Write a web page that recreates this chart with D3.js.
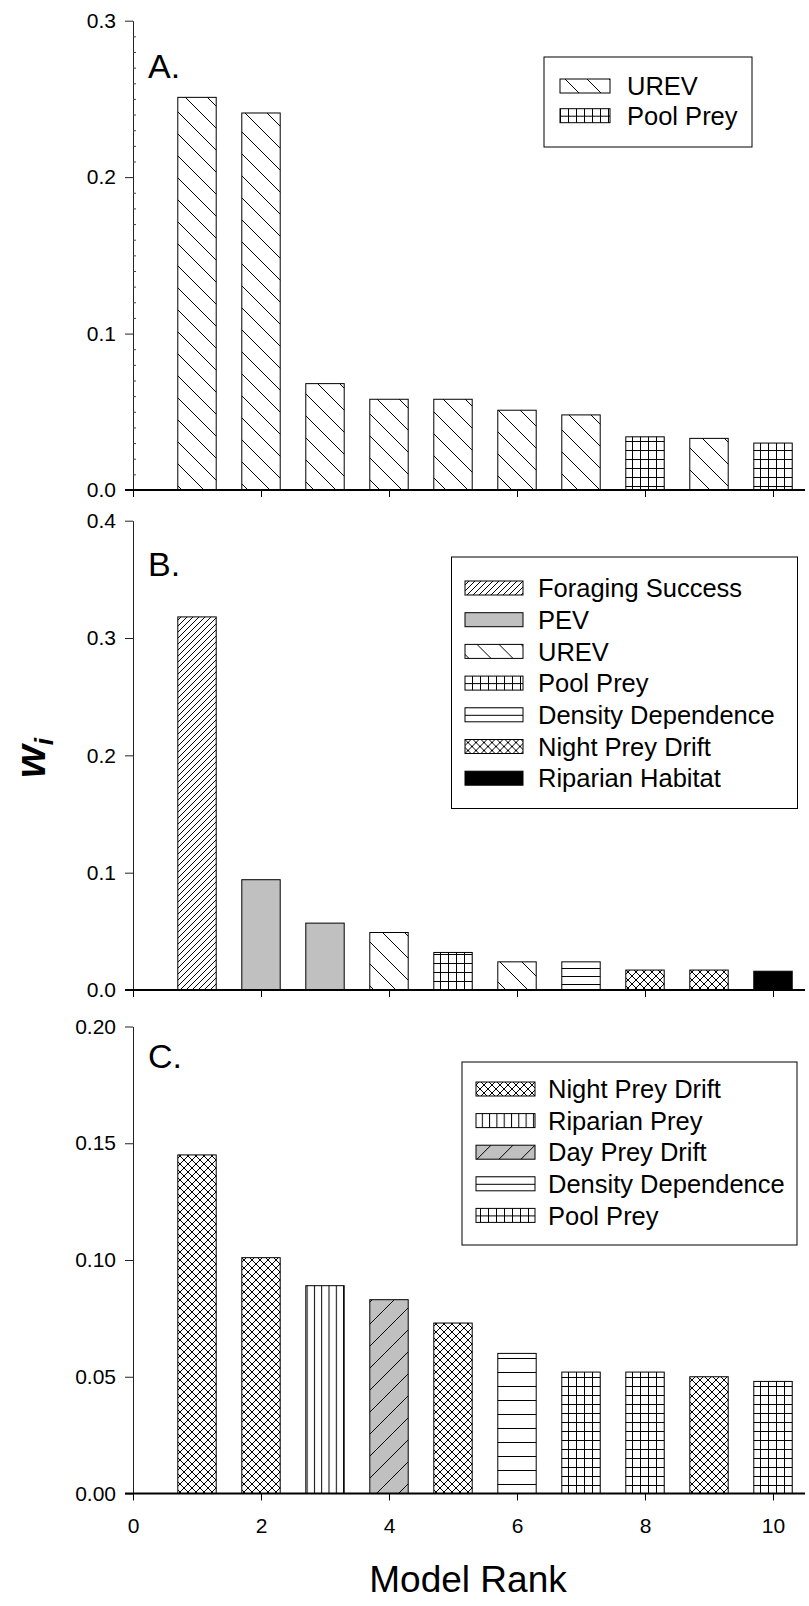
<!DOCTYPE html>
<html>
<head>
<meta charset="utf-8">
<script src="https://cdn.jsdelivr.net/npm/d3@7"></script>
<style>
  html, body { margin: 0; padding: 0; background: #fff; }
  svg { display: block; }
  text { font-family: "Liberation Sans", Arial, sans-serif; fill: #000; }
</style>
</head>
<body>
<svg id="chart" width="809" height="1606"></svg>
<script>
// model ranks on the x axis
var ranks = [1, 2, 3, 4, 5, 6, 7, 8, 9, 10];

// panel A
var catsA = ['UREV', 'UREV', 'UREV', 'UREV', 'UREV', 'UREV', 'UREV', 'Pool Prey', 'UREV', 'Pool Prey'];
var valsA = [0.251, 0.241, 0.068, 0.058, 0.058, 0.051, 0.048, 0.034, 0.033, 0.030];

// panel B
var catsB = ['Foraging Success', 'PEV', 'PEV', 'UREV', 'Pool Prey', 'UREV', 'Density Dependence',
    'Night Prey Drift', 'Night Prey Drift', 'Riparian Habitat'];
var valsB = [0.318, 0.094, 0.057, 0.049, 0.032, 0.024, 0.024, 0.017, 0.017, 0.016];

// panel C
var catsC = ['Night Prey Drift', 'Night Prey Drift', 'Riparian Prey', 'Day Prey Drift', 'Night Prey Drift',
    'Density Dependence', 'Pool Prey', 'Pool Prey', 'Night Prey Drift', 'Pool Prey'];
var valsC = [0.145, 0.101, 0.089, 0.083, 0.073, 0.060, 0.052, 0.052, 0.050, 0.048];

var legendA = ['UREV', 'Pool Prey'];
var legendB = ['Foraging Success', 'PEV', 'UREV', 'Pool Prey', 'Density Dependence', 'Night Prey Drift', 'Riparian Habitat'];
var legendC = ['Night Prey Drift', 'Riparian Prey', 'Day Prey Drift', 'Density Dependence', 'Pool Prey'];

var yTicksA = [0, 0.1, 0.2, 0.3];
var yTicksB = [0, 0.1, 0.2, 0.3, 0.4];
var yTicksC = [0, 0.05, 0.10, 0.15, 0.20];
var xTicks = [0, 2, 4, 6, 8, 10];
var xTitle = 'Model Rank';

var svg = d3.select('#chart');
var defs = svg.append('defs');
var x = d3.scaleLinear().domain([0, 10.5]).range([133, 805]);
var barW = x(0.6) - x(0);

var GRAY = '#c0c0c0';

// hatch patterns, in page pixels
var makePattern = function makePattern(id, w, h, bg, d) {
    var p = defs.append('pattern').attr('id', id)
        .attr('patternUnits', 'userSpaceOnUse').attr('width', w).attr('height', h);
    p.append('rect').attr('width', w).attr('height', h).attr('fill', bg);
    p.append('path').attr('d', d).attr('stroke', '#000').attr('stroke-width', 1).attr('fill', 'none');
};

makePattern('p-forage', 6, 6, '#fff', 'M-1,7 L7,-1 M-1,1 L1,-1 M5,7 L7,5');
makePattern('p-urev', 22, 22, '#fff', 'M-1,-1 L23,23 M-1,21 L1,23 M21,-1 L23,1');
makePattern('p-day', 22, 22, GRAY, 'M-1,23 L23,-1 M-1,1 L1,-1 M21,23 L23,21');
makePattern('p-pool', 8, 9, '#fff', 'M0.5,0 V9 M0,0.5 H8');
makePattern('p-dens', 8, 8, '#fff', 'M0,0.5 H8');
makePattern('p-densC', 8, 14, '#fff', 'M0,0.5 H8');
makePattern('p-night', 8, 8, '#fff', 'M-1,-1 L9,9 M9,-1 L-1,9');
makePattern('p-ripprey', 7.3, 10, '#fff', 'M0.5,0 V10');

var fillFor = function fillFor(cat, key) {
    switch (cat) {
        case 'Foraging Success': return 'url(#p-forage)';
        case 'PEV': return GRAY;
        case 'UREV': return 'url(#p-urev)';
        case 'Pool Prey': return 'url(#p-pool)';
        case 'Density Dependence': return key === 'C' ? 'url(#p-densC)' : 'url(#p-dens)';
        case 'Night Prey Drift': return 'url(#p-night)';
        case 'Riparian Prey': return 'url(#p-ripprey)';
        case 'Day Prey Drift': return 'url(#p-day)';
        case 'Riparian Habitat': return '#000';
    }
    return '#fff';
};

var panels = [
    {key: 'A', cats: catsA, vals: valsA, ticks: yTicksA, fmt: '.1f', top: 20.7, base: 490, labelY: 78,
        minor: 0.01, legend: legendA, box: [544, 57, 208, 90], rowY: 86, rowStep: 29.7, swX: 560, swW: 50, txtX: 627},
    {key: 'B', cats: catsB, vals: valsB, ticks: yTicksB, fmt: '.1f', top: 520.7, base: 990, labelY: 576,
        minor: 0, legend: legendB, box: [451.5, 557, 346, 251.5], rowY: 588, rowStep: 31.7, swX: 465, swW: 58, txtX: 538},
    {key: 'C', cats: catsC, vals: valsC, ticks: yTicksC, fmt: '.2f', top: 1026.5, base: 1493.5, labelY: 1068,
        minor: 0, legend: legendC, box: [462, 1062, 335, 183], rowY: 1089, rowStep: 31.6, swX: 476, swW: 59, txtX: 548}
];

panels.forEach(function drawPanel(p) {
    var yMax = p.ticks[p.ticks.length - 1];
    var y = d3.scaleLinear().domain([0, yMax]).range([p.base, p.top]);
    var g = svg.append('g').attr('class', 'panel-' + p.key);

    // bars
    g.selectAll('rect.bar').data(ranks).enter().append('rect')
        .attr('class', 'bar')
        .attr('x', function (r) { return x(r) - barW / 2; })
        .attr('y', function (r, i) { return y(p.vals[i]); })
        .attr('width', barW)
        .attr('height', function (r, i) { return y(0) - y(p.vals[i]); })
        .attr('fill', function (r, i) { return fillFor(p.cats[i], p.key); })
        .attr('stroke', '#000').attr('stroke-width', 1);

    // y axis
    var yAxis = d3.axisLeft(y).tickValues(p.ticks).tickFormat(d3.format(p.fmt))
        .tickSize(8).tickSizeOuter(0).tickPadding(9);
    var ya = g.append('g').attr('transform', 'translate(' + x(0) + ',0)').call(yAxis);
    ya.select('.domain').attr('stroke', '#222');
    ya.selectAll('.tick line').attr('stroke', '#222');
    ya.selectAll('text').attr('font-size', 21).attr('font-family', '"Liberation Sans", Arial, sans-serif');

    if (p.minor) {
        var minorVals = d3.range(0, yMax + 1e-9, p.minor).filter(function (v) {
            return p.ticks.every(function (t) { return Math.abs(t - v) > 1e-9; });
        });
        g.append('g').attr('transform', 'translate(' + x(0) + ',0)')
            .call(d3.axisRight(y).tickValues(minorVals).tickSize(3).tickFormat(''))
            .call(function (s) { s.select('.domain').remove(); s.selectAll('line').attr('stroke', '#444'); });
    }

    // x axis
    var xAxis = d3.axisBottom(x).tickValues(xTicks).tickSize(7).tickSizeOuter(0).tickPadding(18);
    if (p.key !== 'C') xAxis.tickFormat('');
    var xa = g.append('g').attr('transform', 'translate(0,' + y(0) + ')').call(xAxis);
    xa.select('.domain').remove();
    xa.selectAll('.tick line').attr('stroke', '#000');
    xa.selectAll('text').attr('font-size', 21).attr('font-family', '"Liberation Sans", Arial, sans-serif');
    g.append('line').attr('x1', x(0) - 8).attr('x2', x(10.5)).attr('y1', y(0)).attr('y2', y(0))
        .attr('stroke', '#000').attr('stroke-width', 2);

    // panel letter
    g.append('text').attr('x', 148).attr('y', p.labelY).attr('font-size', 34).text(p.key + '.');

    // legend
    var lg = g.append('g').attr('class', 'legend');
    lg.append('rect').attr('x', p.box[0]).attr('y', p.box[1]).attr('width', p.box[2]).attr('height', p.box[3])
        .attr('fill', '#fff').attr('stroke', '#000').attr('stroke-width', 1);
    var rows = lg.selectAll('g.row').data(p.legend).enter().append('g').attr('class', 'row')
        .attr('transform', function (d, i) { return 'translate(0,' + (p.rowY + i * p.rowStep) + ')'; });
    rows.append('rect').attr('x', p.swX).attr('y', -7).attr('width', p.swW).attr('height', 14)
        .attr('fill', function (d) { return fillFor(d, 'L'); })
        .attr('stroke', '#000').attr('stroke-width', 1);
    rows.append('text').attr('x', p.txtX).attr('dy', '0.36em').attr('font-size', 25.5).text(function (d) { return d; });
});

// axis titles
svg.append('text').attr('x', 468).attr('y', 1592).attr('text-anchor', 'middle')
    .attr('font-size', 37).text(xTitle);

var wi = svg.append('text').attr('transform', 'translate(45,758) rotate(-90)')
    .attr('text-anchor', 'middle').attr('font-weight', 'bold').attr('font-style', 'italic');
wi.append('tspan').attr('font-size', 42).text('w');
wi.append('tspan').attr('font-size', 26).attr('dy', 8).text('i');
</script>
</body>
</html>
